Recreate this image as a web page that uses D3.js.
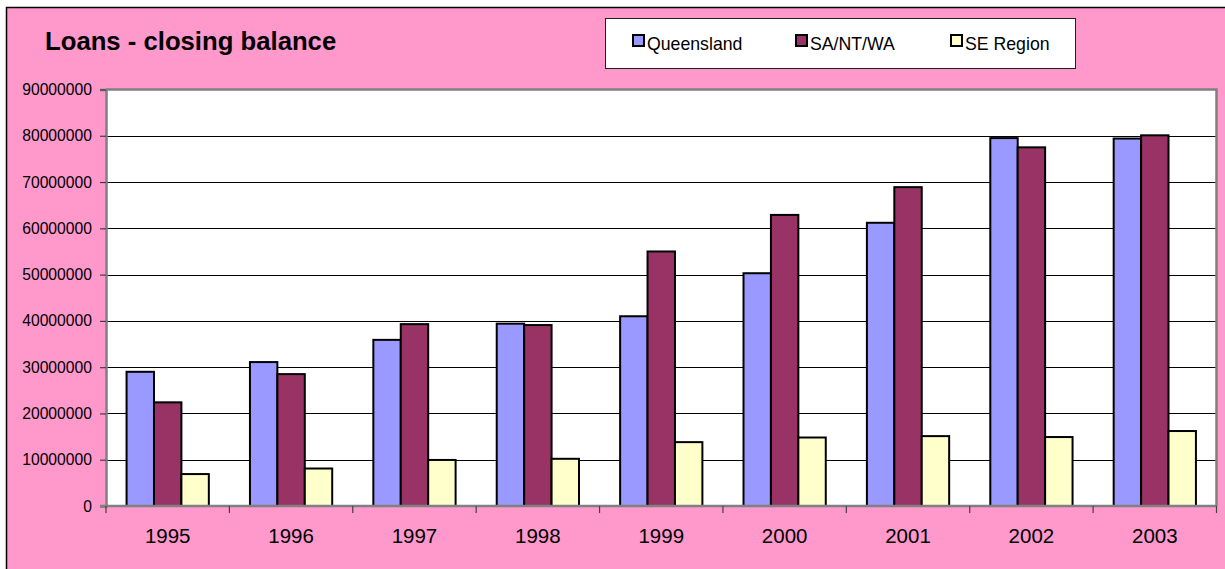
<!DOCTYPE html>
<html>
<head>
<meta charset="utf-8">
<script src="https://cdn.jsdelivr.net/npm/d3@7"></script>
<style>
  html, body { margin: 0; padding: 0; background: #ffffff; }
  svg { display: block; font-family: "Liberation Sans", Arial, sans-serif; }
</style>
</head>
<body>
<svg id="chart" width="1225" height="569"></svg>
<script>
// Loan closing balances by region, 1995–2003
const years = ["1995", "1996", "1997", "1998", "1999", "2000", "2001", "2002", "2003"];
const seriesNames = ["Queensland", "SA/NT/WA", "SE Region"];
const queensland = [29000000, 31100000, 35900000, 39400000, 41000000, 50300000, 61200000, 79500000, 79400000];
const saNtWa     = [22400000, 28500000, 39300000, 39100000, 55000000, 62900000, 68900000, 77500000, 80100000];
const seRegion   = [6900000, 8100000, 9950000, 10200000, 13800000, 14800000, 15100000, 14900000, 16200000];
const yTicks = [0, 10000000, 20000000, 30000000, 40000000, 50000000, 60000000, 70000000, 80000000, 90000000];
const colors = ["#9999FF", "#993366", "#FFFFCC"];

const seriesValues = [queensland, saNtWa, seRegion];
const rows = years.map((yr, i) => ({
  year: yr,
  values: seriesNames.map((name, s) => ({ name, s, value: seriesValues[s][i] }))
}));

const svg = d3.select("#chart");

// chart area background and frame
svg.append("rect")
  .attr("x", 6.5).attr("y", 7.5)
  .attr("width", 1240).attr("height", 600)
  .attr("fill", "#FF99CC")
  .attr("stroke", "#000").attr("stroke-width", 1.5);

// title
svg.append("text")
  .attr("x", 45).attr("y", 50)
  .attr("font-size", 25.7).attr("font-weight", "bold")
  .attr("fill", "#000")
  .text("Loans - closing balance");

// plot geometry
const plot = { left: 106, top: 89.5, right: 1216.5, bottom: 506 };

const x = d3.scaleBand()
  .domain(years)
  .range([plot.left, plot.right])
  .paddingInner(0).paddingOuter(0);

const bandW = x.bandwidth();
const barW = bandW / 4.5;           // three bars plus a 150% gap
const xInner = d3.scaleBand()
  .domain(d3.range(seriesNames.length))
  .range([barW * 0.75, barW * 3.75])
  .padding(0);

const y = d3.scaleLinear()
  .domain([0, 90000000])
  .range([plot.bottom, plot.top]);

// plot area fill
svg.append("rect")
  .attr("x", plot.left).attr("y", plot.top)
  .attr("width", plot.right - plot.left).attr("height", plot.bottom - plot.top)
  .attr("fill", "#ffffff");

// gridlines
svg.append("g")
  .selectAll("line")
  .data(yTicks.filter(t => t > 0 && t < 90000000))
  .join("line")
  .attr("x1", plot.left).attr("x2", plot.right)
  .attr("y1", d => Math.round(y(d)) + 0.5).attr("y2", d => Math.round(y(d)) + 0.5)
  .attr("stroke", "#000").attr("stroke-width", 1);

// bars
const groups = svg.append("g")
  .selectAll("g")
  .data(rows)
  .join("g")
  .attr("transform", d => `translate(${x(d.year)},0)`);

groups.selectAll("rect")
  .data(d => d.values)
  .join("rect")
  .attr("x", d => xInner(d.s))
  .attr("width", xInner.bandwidth())
  .attr("y", d => y(d.value))
  .attr("height", d => y(0) - y(d.value))
  .attr("fill", d => colors[d.s])
  .attr("stroke", "#000")
  .attr("stroke-width", 2);

// plot frame (top and right) in grey
svg.append("path")
  .attr("d", `M${plot.left},${plot.top}H${plot.right}V${plot.bottom}`)
  .attr("fill", "none")
  .attr("stroke", "#808080").attr("stroke-width", 2.5);

// y axis
const yAxis = d3.axisLeft(y)
  .tickValues(yTicks)
  .tickFormat(d3.format("d"))
  .tickSize(6)
  .tickPadding(8);

const gy = svg.append("g")
  .attr("transform", `translate(${plot.left},0)`)
  .call(yAxis);
gy.select(".domain").attr("stroke", "#808080").attr("stroke-width", 2.5);
gy.selectAll(".tick line").attr("stroke", "#404040").attr("stroke-width", 1.2);
gy.selectAll(".tick text")
  .attr("font-size", 15.7)
  .attr("font-family", "Liberation Sans, Arial, sans-serif")
  .attr("fill", "#000");

// x axis: ticks sit at category boundaries
const gx = svg.append("g")
  .attr("transform", `translate(0,${plot.bottom})`);

gx.append("line")
  .attr("x1", plot.left - 6).attr("x2", plot.right)
  .attr("y1", 0).attr("y2", 0)
  .attr("stroke", "#808080").attr("stroke-width", 2.5);

const boundaries = years.map(yr => x(yr)).concat([x(years[years.length - 1]) + bandW]);
gx.selectAll("line.tick")
  .data(boundaries)
  .join("line")
  .attr("class", "tick")
  .attr("x1", d => d).attr("x2", d => d)
  .attr("y1", 0).attr("y2", 7)
  .attr("stroke", "#404040").attr("stroke-width", 1.2);

gx.selectAll("text")
  .data(years)
  .join("text")
  .attr("x", d => x(d) + bandW / 2)
  .attr("y", 37)
  .attr("text-anchor", "middle")
  .attr("font-size", 20.5)
  .attr("fill", "#000")
  .text(d => d);

// legend
const legend = svg.append("g");
legend.append("rect")
  .attr("x", 605.5).attr("y", 18.5)
  .attr("width", 470).attr("height", 50)
  .attr("fill", "#ffffff")
  .attr("stroke", "#202020").attr("stroke-width", 1);

const legendX = [633, 796, 951];
const items = legend.selectAll("g.item")
  .data(seriesNames)
  .join("g")
  .attr("class", "item")
  .attr("transform", (d, i) => `translate(${legendX[i]},35)`);

items.append("rect")
  .attr("x", 0).attr("y", 0)
  .attr("width", 11).attr("height", 11)
  .attr("fill", (d, i) => colors[i])
  .attr("stroke", "#000").attr("stroke-width", 2);

items.append("text")
  .attr("x", 14).attr("y", 15)
  .attr("font-size", 17.7)
  .attr("fill", "#000")
  .text(d => d);
</script>
</body>
</html>
